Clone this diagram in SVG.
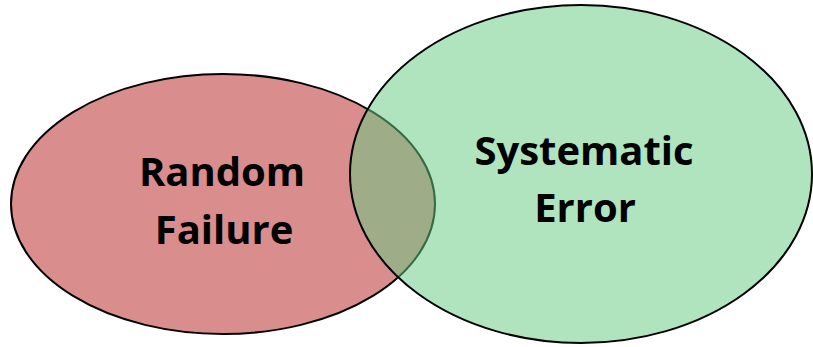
<svg xmlns="http://www.w3.org/2000/svg" width="813" height="347" viewBox="0 0 813 347">
  <style>
    .set { stroke: #000; stroke-width: 2; }
    .label { font-family: "Open Sans", "Liberation Sans", sans-serif; font-weight: 700; font-size: 40px; fill: #000; text-anchor: middle; }
  </style>
  <rect width="813" height="347" fill="#fff"/>
  <g id="random-failure">
    <ellipse class="set" cx="223" cy="204" rx="212" ry="130" fill="#da8d8d"/>
    <text class="label" x="222" y="186">Random</text>
    <text class="label" x="224" y="244">Failure</text>
  </g>
  <g id="systematic-error">
    <ellipse class="set" cx="581" cy="174" rx="231" ry="169" fill="rgb(103,203,132)" fill-opacity="0.52"/>
    <text class="label" x="584" y="165">Systematic</text>
    <text class="label" x="585" y="222">Error</text>
  </g>
  <g id="connectors"/>
</svg>
